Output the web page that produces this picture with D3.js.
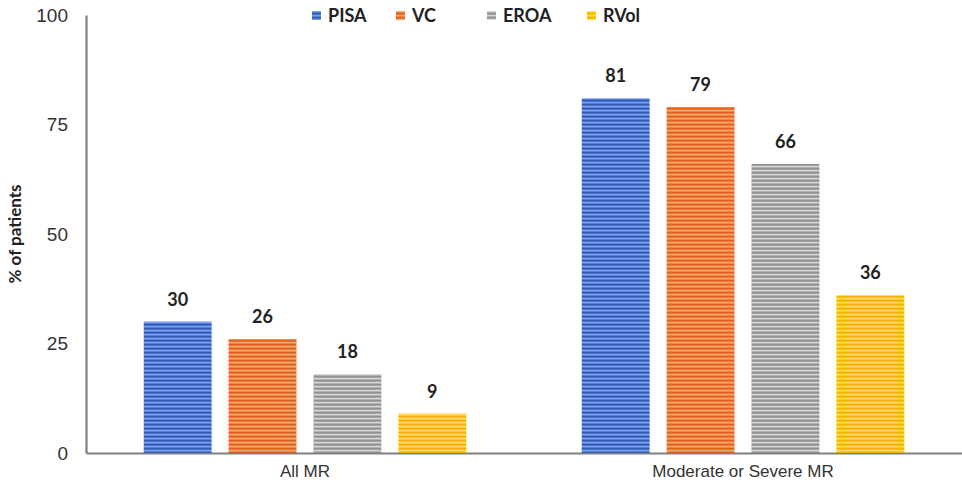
<!DOCTYPE html>
<html>
<head>
<meta charset="utf-8">
<script src="https://cdn.jsdelivr.net/npm/d3@7"></script>
<style>
  html, body { margin: 0; padding: 0; background: #fff; }
  svg { display: block; font-family: Lato, "Open Sans", "Liberation Sans", sans-serif; }
</style>
</head>
<body>
<svg id="chart" width="962" height="490"></svg>
<script>
// Chart data
const categories = ["All MR", "Moderate or Severe MR"];
const seriesNames = ["PISA", "VC", "EROA", "RVol"];
const PISA = [30, 81];
const VC = [26, 79];
const EROA = [18, 66];
const RVol = [9, 36];
const yTicks = [0, 25, 50, 75, 100];

const seriesValues = [PISA, VC, EROA, RVol];
const colors = {
  PISA: { base: "#4470D0", light: "#7DA2EA", dark: "#2F55A8" },
  VC:   { base: "#F0742E", light: "#F7A877", dark: "#D65F1E" },
  EROA: { base: "#A3A3A3", light: "#D6D6D6", dark: "#8C8C8C" },
  RVol: { base: "#FFC000", light: "#FFE066", dark: "#F0B000" }
};

const svg = d3.select("#chart");
const margin = { left: 86, right: 0, top: 15, bottom: 37 };
const width = 962, height = 490;

// Striped fills for the bars
const defs = svg.append("defs");
seriesNames.forEach(name => {
  const p = defs.append("pattern")
    .attr("id", "stripe-" + name)
    .attr("patternUnits", "userSpaceOnUse")
    .attr("width", 8).attr("height", 4);
  p.append("rect").attr("width", 8).attr("height", 4).attr("fill", colors[name].base);
  p.append("rect").attr("y", 0).attr("width", 8).attr("height", 0.8).attr("fill", colors[name].dark);
  p.append("rect").attr("y", 2).attr("width", 8).attr("height", 1.3).attr("fill", colors[name].light);
});

const x0 = d3.scaleBand()
  .domain(categories)
  .range([margin.left, width - margin.right])
  .paddingInner(0).paddingOuter(0);

const x1 = d3.scaleBand()
  .domain(seriesNames)
  .range([0, x0.bandwidth()])
  .paddingInner(0.2)
  .paddingOuter(0.68);

const y = d3.scaleLinear()
  .domain([0, 100])
  .range([height - margin.bottom, margin.top]);

// Y axis
const yAxis = svg.append("g")
  .attr("transform", `translate(${margin.left},0)`)
  .call(d3.axisLeft(y).tickValues(yTicks).tickSize(0).tickPadding(18));
yAxis.select(".domain").attr("stroke", "#7f7f7f").attr("stroke-width", 2.2);
yAxis.selectAll("text")
  .attr("font-size", 19).attr("fill", "#333");

// X axis
const xAxis = svg.append("g")
  .attr("transform", `translate(0,${height - margin.bottom})`)
  .call(d3.axisBottom(x0).tickSize(0).tickPadding(12));
xAxis.select(".domain").attr("stroke", "#7f7f7f").attr("stroke-width", 2.2);
xAxis.selectAll("text")
  .attr("font-size", 17).attr("fill", "#333");

// Y axis title
svg.append("text")
  .attr("transform", `translate(21,${y(50)}) rotate(-90)`)
  .attr("text-anchor", "middle")
  .attr("font-size", 17).attr("font-weight", "bold").attr("fill", "#222")
  .text("% of patients");

// Bars
const groups = svg.append("g").selectAll("g")
  .data(categories)
  .join("g")
  .attr("transform", d => `translate(${x0(d)},0)`);

groups.selectAll("rect")
  .data((d, i) => seriesNames.map((s, j) => ({ s, v: seriesValues[j][i] })))
  .join("rect")
  .attr("x", d => x1(d.s))
  .attr("y", d => y(d.v))
  .attr("width", x1.bandwidth())
  .attr("height", d => y(0) - y(d.v))
  .attr("fill", d => `url(#stripe-${d.s})`);

groups.selectAll("text.val")
  .data((d, i) => seriesNames.map((s, j) => ({ s, v: seriesValues[j][i] })))
  .join("text")
  .attr("class", "val")
  .attr("x", d => x1(d.s) + x1.bandwidth() / 2)
  .attr("y", d => y(d.v) - 16)
  .attr("text-anchor", "middle")
  .attr("font-size", 18).attr("font-weight", "bold").attr("fill", "#222")
  .text(d => d.v);

// Legend
const legendX = [312, 396, 487, 587];
const legend = svg.append("g");
seriesNames.forEach((name, i) => {
  const g = legend.append("g").attr("transform", `translate(${legendX[i]},17)`);
  g.append("rect").attr("x", 0).attr("y", -6).attr("width", 9).attr("height", 9)
    .attr("fill", `url(#stripe-${name})`);
  g.append("text").attr("x", 16).attr("y", 5)
    .attr("font-size", 18).attr("font-weight", "bold").attr("fill", "#222")
    .text(name);
});
</script>
</body>
</html>
